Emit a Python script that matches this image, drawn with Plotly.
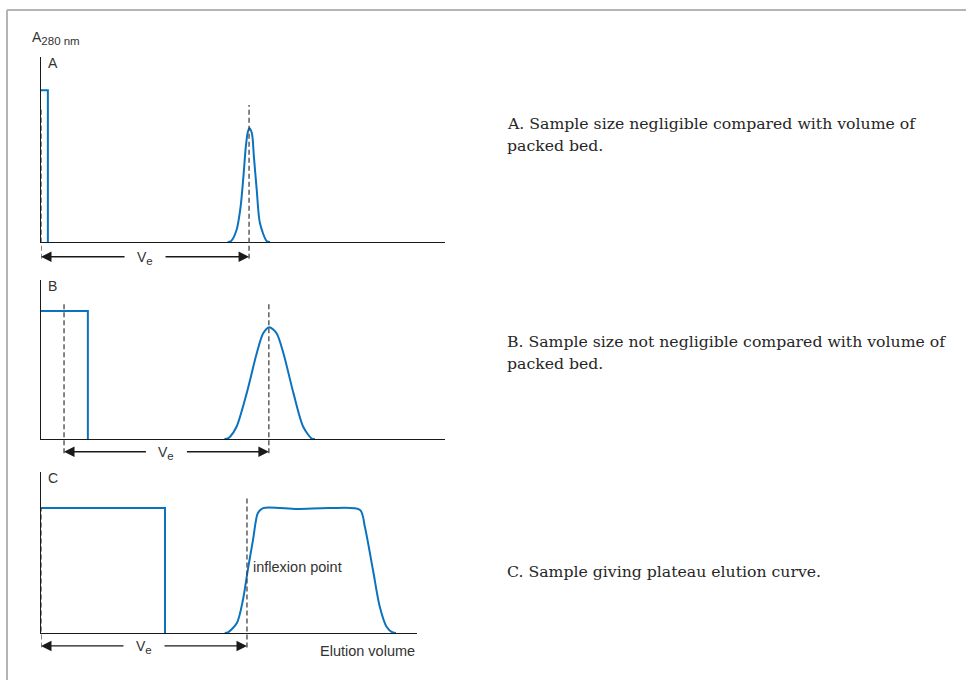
import plotly.graph_objects as go

# ---------------- data (elution volume in arbitrary units, absorbance normalised) -------------
panels = ["A", "B", "C"]

a_sample_x = [0, 1.7, 1.7]
a_sample_y = [0.82, 0.82, 0]
a_peak_x = [46.2, 47.0, 48.4, 49.4, 50.1, 50.7, 51.2, 51.6, 52.2, 52.7, 53.4, 54.2, 55.9, 56.7]
a_peak_y = [0, 0.004, 0.065, 0.19, 0.353, 0.515, 0.596, 0.615, 0.588, 0.461, 0.281, 0.101, 0.004, 0]
a_ve = [0, 51.5]

b_sample_x = [0, 11.6, 11.6]
b_sample_y = [0.805, 0.805, 0]
b_peak_x = [45.4, 46.2, 46.8, 48.4, 50.9, 53.4, 55.0, 56.5, 58.3, 60.0, 62.5, 64.9, 67.0, 67.8]
b_peak_y = [0, 0.003, 0.014, 0.077, 0.287, 0.539, 0.665, 0.703, 0.665, 0.539, 0.287, 0.077, 0.003, 0]
b_ve = [5.7, 56.4]

c_sample_x = [0, 30.7, 30.7]
c_sample_y = [0.776, 0.776, 0]
c_peak_x = [45.5, 46.3, 48.5, 50.0, 51.2, 52.5, 53.7, 55.0, 63.4, 71.5, 79.0, 80.2, 82.2, 83.9, 85.6, 87.1, 87.9]
c_peak_y = [0, 0.004, 0.062, 0.205, 0.391, 0.578, 0.745, 0.776, 0.77, 0.776, 0.764, 0.658, 0.391, 0.161, 0.037, 0.003, 0]
c_ve = [0, 51.0]

x_max = [100, 100, 93.1]
dash_top = [[0.73, 0.74], [0.86, 0.86], [0.776, 0.85]]

captions = [
    ["A. Sample size negligible compared with volume of", "packed bed."],
    ["B. Sample size not negligible compared with volume of", "packed bed."],
    ["C. Sample giving plateau elution curve."],
]
y_label = "A<sub><span style='font-size:11.5px'>280 nm</span></sub>"
ve_label = "V<sub><span style='font-size:11.5px'>e</span></sub>"
x_label = "Elution volume"
inflexion_label = "inflexion point"

# ---------------- figure -------------
W, H = 966, 680
BLUE = "#0a72be"
INK = "#333333"
SANS = "Liberation Sans, Arial, sans-serif"
SERIF = "DejaVu Serif, serif"

# pixel layout of the three panels (left, right, bottom, top)
boxes = [(41, 445, 242, 57), (41, 445, 439, 280), (41, 417, 633, 472)]
caption_first_line = [123, 341, 571]
CAPTION_LINE_GAP = 22.5

data = [
    (a_sample_x, a_sample_y, a_peak_x, a_peak_y, a_ve),
    (b_sample_x, b_sample_y, b_peak_x, b_peak_y, b_ve),
    (c_sample_x, c_sample_y, c_peak_x, c_peak_y, c_ve),
]

fig = go.Figure()
layout = dict(
    width=W, height=H,
    margin=dict(l=0, r=0, t=0, b=0),
    paper_bgcolor="white", plot_bgcolor="rgba(0,0,0,0)",
    showlegend=False,
    annotations=[], shapes=[],
)

ARROW_Y = -0.08
for i, (sx, sy, px, py, ve) in enumerate(data):
    n = "" if i == 0 else str(i + 1)
    xa, ya = "x" + n, "y" + n
    yd = ya + " domain"
    l, r, b, t = boxes[i]
    layout["xaxis" + n] = dict(
        domain=[l / W, r / W], range=[0, x_max[i]], anchor=ya,
        showline=True, linecolor="#1a1a1a", linewidth=1.4,
        showgrid=False, zeroline=False, showticklabels=False, ticks="",
        fixedrange=True,
    )
    layout["yaxis" + n] = dict(
        domain=[1 - b / H, 1 - t / H], range=[0, 1], anchor=xa,
        showline=True, linecolor="#1a1a1a", linewidth=1.4,
        showgrid=False, zeroline=False, showticklabels=False, ticks="",
        fixedrange=True,
    )
    fig.add_trace(go.Scatter(x=sx, y=sy, mode="lines", xaxis=xa, yaxis=ya,
                             line=dict(color=BLUE, width=2), hoverinfo="skip"))
    fig.add_trace(go.Scatter(x=px, y=py, mode="lines", xaxis=xa, yaxis=ya,
                             line=dict(color=BLUE, width=2, shape="spline", smoothing=0.8),
                             hoverinfo="skip"))
    # dashed markers at start and at Ve
    for k, xv in enumerate(ve):
        layout["shapes"].append(dict(
            type="line", xref=xa, yref=yd, x0=xv, x1=xv,
            y0=ARROW_Y - 0.01, y1=dash_top[i][k],
            line=dict(color="#444444", width=1.3, dash="5px,3px"), layer="above"))
    # Ve double arrow with gap for label
    mid = (ve[0] + ve[1]) / 2
    gap = 19 / ((r - l) / x_max[i])
    for head, tail in ((ve[0], mid - gap), (ve[1], mid + gap)):
        layout["annotations"].append(dict(
            xref=xa, yref=yd, axref=xa, ayref=yd, x=head, y=ARROW_Y, ax=tail, ay=ARROW_Y,
            text="", showarrow=True, arrowhead=2, arrowsize=1.5, arrowwidth=1.4,
            arrowcolor="#1a1a1a", standoff=0, startstandoff=0))
    layout["annotations"].append(dict(
        xref=xa, yref=yd, x=mid, y=ARROW_Y, yshift=-1, text=ve_label, showarrow=False,
        font=dict(family=SANS, size=14, color=INK), xanchor="center", yanchor="middle"))
    # panel letter
    layout["annotations"].append(dict(
        xref=xa + " domain", yref=yd, x=0, y=1, xshift=5, yshift=-6,
        text=panels[i], showarrow=False, xanchor="left", yanchor="middle",
        font=dict(family=SANS, size=14, color=INK)))
    # caption on the right
    for j, line in enumerate(captions[i]):
        yy = caption_first_line[i] + j * CAPTION_LINE_GAP
        layout["annotations"].append(dict(
            xref="paper", yref="paper", x=505 / W, y=1 - yy / H,
            text=line, showarrow=False, xanchor="left", yanchor="middle", align="left",
            font=dict(family=SERIF, size=15.7, color="#262626")))

# y-axis title
layout["annotations"].append(dict(
    xref="x domain", yref="y domain", x=0, y=1, xshift=-11, yshift=19,
    text=y_label, showarrow=False, xanchor="left", yanchor="middle",
    font=dict(family=SANS, size=14, color=INK)))
# x-axis title (bottom panel)
layout["annotations"].append(dict(
    xref="x3 domain", yref="y3 domain", x=1, y=ARROW_Y - 0.03, text=x_label, showarrow=False,
    xanchor="right", yanchor="middle", font=dict(family=SANS, size=14.5, color=INK)))
# inflexion point label
layout["annotations"].append(dict(
    xref="x3", yref="y3", x=c_ve[1], y=0.41, xshift=4, text=inflexion_label, showarrow=False,
    xanchor="left", yanchor="middle", font=dict(family=SANS, size=14.5, color=INK)))

# page frame (top and left edges)
layout["shapes"].append(dict(type="line", xref="paper", yref="paper", x0=7 / W, x1=1.01,
                             y0=1 - 10 / H, y1=1 - 10 / H, line=dict(color="#b4b4b4", width=2)))
layout["shapes"].append(dict(type="line", xref="paper", yref="paper", x0=7 / W, x1=7 / W,
                             y0=1 - 10 / H, y1=-0.01, line=dict(color="#b4b4b4", width=2)))

fig.update_layout(**layout)
fig.write_html("out.html", config={"displayModeBar": False},
               post_script="document.body.style.margin='0';document.body.style.overflow='hidden';")
